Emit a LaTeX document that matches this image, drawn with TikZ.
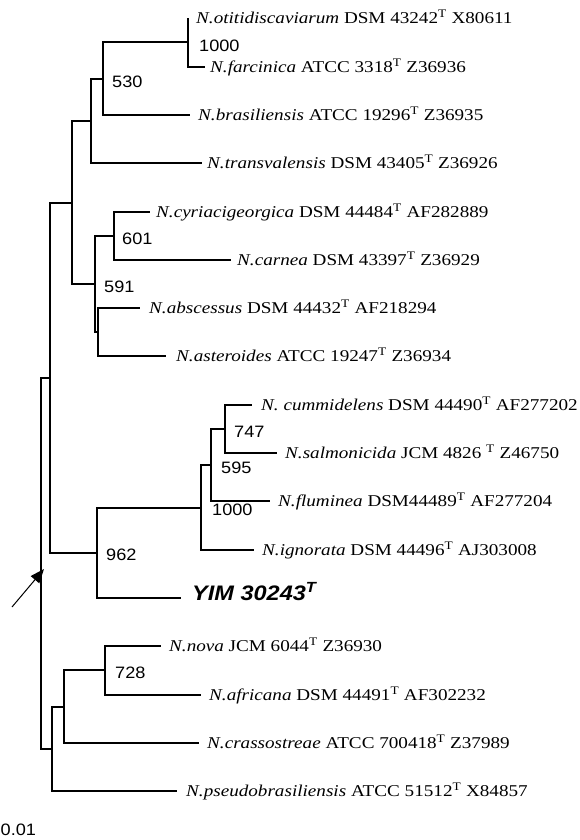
\documentclass[tikz,border=0pt]{standalone}
\usepackage{fontspec}
\setmainfont{Liberation Serif}[FakeStretch=1.16]
\newfontfamily\bsfont{Liberation Sans}[FakeStretch=1.1]
\newfontfamily\yimfont{Liberation Sans}[FakeStretch=1.12]
\usetikzlibrary{arrows.meta}
\tikzset{
  br/.style={line width=1.1pt, line join=miter},
  rootbr/.style={line width=2pt, line join=miter},
  sp/.style={anchor=base west, inner sep=0pt, yshift=-5.5pt, font=\fontsize{16.5}{18}\selectfont},
  bs/.style={anchor=west, inner sep=0pt, font=\bsfont\fontsize{16.5}{18}\selectfont},
  yim/.style={anchor=base west, inner sep=0pt, font=\yimfont\bfseries\itshape\fontsize{21}{23}\selectfont},
}
\begin{document}
\begin{tikzpicture}[x=1pt,y=-1pt]
\useasboundingbox (0,0) rectangle (580,840);
% internal nodes
\coordinate (root) at (41,563.5);
\coordinate (nUpper) at (50,378);
\coordinate (nTop) at (72,203);
\coordinate (nT) at (91,121);
\coordinate (n530) at (103,79);
\coordinate (n1000a) at (188,42);
\coordinate (n591) at (95,284);
\coordinate (n601) at (114,236);
\coordinate (nAA) at (98,332);
\coordinate (n962) at (97,553);
\coordinate (n1000b) at (201,508);
\coordinate (n595) at (211,465);
\coordinate (n747) at (225,429);
\coordinate (nLow) at (52,749);
\coordinate (nC) at (64,707);
\coordinate (n728) at (105,670);
% tips
\coordinate (tOtit) at (188,18);
\coordinate (tFarc) at (205,67);
\coordinate (tBras) at (190,115);
\coordinate (tTransv) at (202,163);
\coordinate (tCyri) at (150,212);
\coordinate (tCarn) at (231,260);
\coordinate (tAbsc) at (140,308);
\coordinate (tAster) at (166,356);
\coordinate (tCumm) at (252,405);
\coordinate (tSalm) at (277,453);
\coordinate (tFlum) at (270,501);
\coordinate (tIgn) at (254,550);
\coordinate (tYim) at (181,598);
\coordinate (tNova) at (161,646);
\coordinate (tAfr) at (201,695);
\coordinate (tCrass) at (199,743);
\coordinate (tPseudo) at (177,791);
% branches
\draw[rootbr] (root) |- (nUpper);
\draw[rootbr] (root) |- (nLow);
\draw[br] (nUpper) |- (nTop);
\draw[br] (nUpper) |- (n962);
\draw[br] (nTop) |- (nT);
\draw[br] (nTop) |- (n591);
\draw[br] (nT) |- (n530);
\draw[br] (nT) |- (tTransv);
\draw[br] (n530) |- (n1000a);
\draw[br] (n530) |- (tBras);
\draw[br] (n1000a) |- (tOtit);
\draw[br] (n1000a) |- (tFarc);
\draw[br] (n591) |- (n601);
\draw[br] (n591) |- (nAA);
\draw[br] (n601) |- (tCyri);
\draw[br] (n601) |- (tCarn);
\draw[br] (nAA) |- (tAbsc);
\draw[br] (nAA) |- (tAster);
\draw[br] (n962) |- (n1000b);
\draw[br] (n962) |- (tYim);
\draw[br] (n1000b) |- (n595);
\draw[br] (n1000b) |- (tIgn);
\draw[br] (n595) |- (n747);
\draw[br] (n595) |- (tFlum);
\draw[br] (n747) |- (tCumm);
\draw[br] (n747) |- (tSalm);
\draw[br] (nLow) |- (nC);
\draw[br] (nLow) |- (tPseudo);
\draw[br] (nC) |- (n728);
\draw[br] (nC) |- (tCrass);
\draw[br] (n728) |- (tNova);
\draw[br] (n728) |- (tAfr);
% tip labels
\node[sp] (lOtit) at (196,18) {\textit{N.otitidiscaviarum} DSM 43242\textsuperscript{T} X80611};
\node[sp] (lFarc) at (210,67) {\textit{N.farcinica} ATCC 3318\textsuperscript{T} Z36936};
\node[sp] (lBras) at (198,115) {\textit{N.brasiliensis} ATCC 19296\textsuperscript{T} Z36935};
\node[sp] (lTransv) at (207,163) {\textit{N.transvalensis} DSM 43405\textsuperscript{T} Z36926};
\node[sp] (lCyri) at (156,212) {\textit{N.cyriacigeorgica} DSM 44484\textsuperscript{T} AF282889};
\node[sp] (lCarn) at (237,260) {\textit{N.carnea} DSM 43397\textsuperscript{T} Z36929};
\node[sp] (lAbsc) at (149,308) {\textit{N.abscessus} DSM 44432\textsuperscript{T} AF218294};
\node[sp] (lAster) at (176,356) {\textit{N.asteroides} ATCC 19247\textsuperscript{T} Z36934};
\node[sp] (lCumm) at (261,405) {\textit{N. cummidelens} DSM 44490\textsuperscript{T} AF277202};
\node[sp] (lSalm) at (285,453) {\textit{N.salmonicida} JCM 4826 \textsuperscript{T} Z46750};
\node[sp] (lFlum) at (278,501) {\textit{N.fluminea} DSM44489\textsuperscript{T} AF277204};
\node[sp] (lIgn) at (262,550) {\textit{N.ignorata} DSM 44496\textsuperscript{T} AJ303008};
\node[yim] (lYim) at (192,600) {YIM 30243\textsuperscript{T}};
\node[sp] (lNova) at (169,646) {\textit{N.nova} JCM 6044\textsuperscript{T} Z36930};
\node[sp] (lAfr) at (209,695) {\textit{N.africana} DSM 44491\textsuperscript{T} AF302232};
\node[sp] (lCrass) at (207,743) {\textit{N.crassostreae} ATCC 700418\textsuperscript{T} Z37989};
\node[sp] (lPseudo) at (186,791) {\textit{N.pseudobrasiliensis} ATCC 51512\textsuperscript{T} X84857};
% bootstrap values
\node[bs] (b1000a) at (199,45.5) {1000};
\node[bs] (b530) at (112,82) {530};
\node[bs] (b601) at (122,239) {601};
\node[bs] (b591) at (104,287) {591};
\node[bs] (b747) at (234,432) {747};
\node[bs] (b595) at (221,468) {595};
\node[bs] (b1000b) at (212,510) {1000};
\node[bs] (b962) at (106,555) {962};
\node[bs] (b728) at (115,673) {728};
\node[bs] (scale) at (0.5,830) {0.01};
% arrow
\coordinate (arrS) at (12,607);
\coordinate (arrE) at (44,569);
\draw[line width=1pt, -{Triangle[length=14pt,width=11pt]}] (arrS) -- (arrE);
\end{tikzpicture}
\end{document}
